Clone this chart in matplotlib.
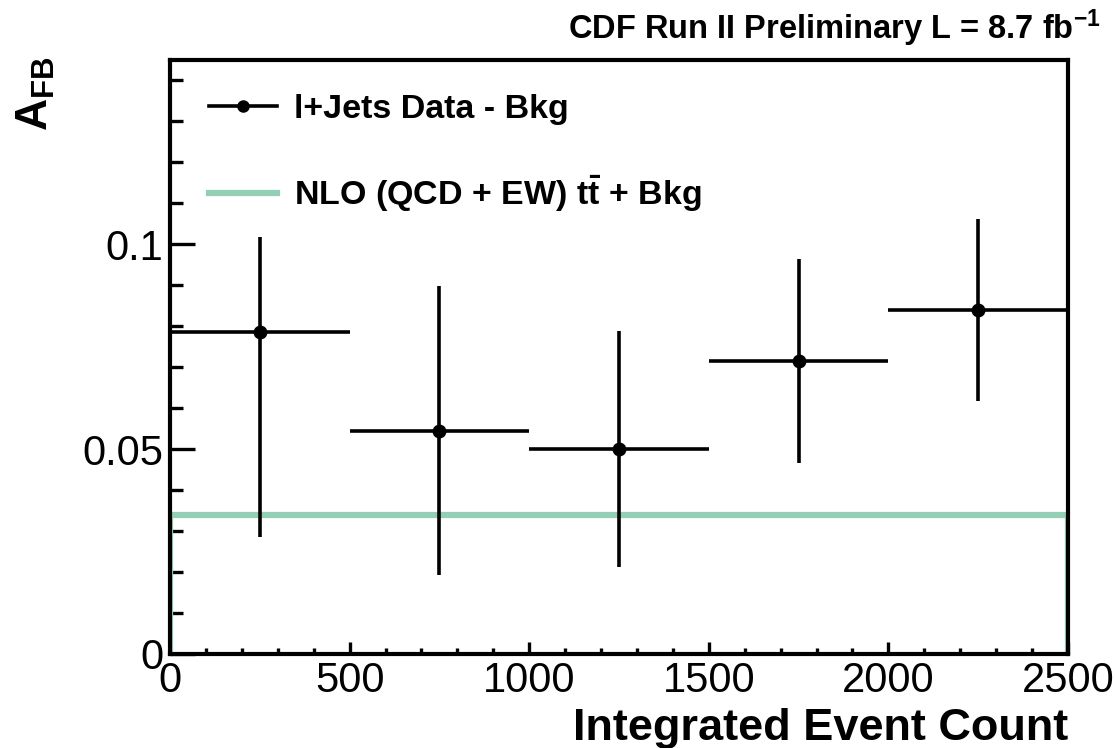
#!/usr/bin/env python3
"""CDF l+jets A_FB versus integrated event count."""

import matplotlib

matplotlib.use("Agg")
import matplotlib.pyplot as plt
from matplotlib.lines import Line2D
import numpy as np

# bins of integrated event count
bin_edges = [0, 500, 1000, 1500, 2000, 2500]
afb_data = [0.0785, 0.0544, 0.0500, 0.0715, 0.0839]
err_low = [0.0500, 0.0351, 0.0288, 0.0249, 0.0222]
err_high = [0.0232, 0.0354, 0.0288, 0.0248, 0.0224]
afb_nlo = [0.0339, 0.0339, 0.0339, 0.0339, 0.0339]

plt.rcParams["font.family"] = ["Liberation Sans", "DejaVu Sans"]
plt.rcParams["mathtext.fontset"] = "custom"
plt.rcParams["mathtext.rm"] = "Liberation Sans"
plt.rcParams["mathtext.bf"] = "Liberation Sans:bold"
plt.rcParams["mathtext.it"] = "Liberation Sans:italic"

NLO_COLOR = "#93cfb4"


def main() -> None:
    fig = plt.figure(figsize=(11.15, 7.48), dpi=100)
    ax = fig.add_axes([0.1525, 0.1257, 0.8053, 0.7941])

    edges = np.asarray(bin_edges, dtype=float)
    centers = 0.5 * (edges[:-1] + edges[1:])
    half = 0.5 * np.diff(edges)

    ax.stairs(afb_nlo, edges, baseline=0, color=NLO_COLOR, linewidth=4.5, zorder=2)
    ax.errorbar(centers, afb_data, xerr=half, yerr=[err_low, err_high],
                fmt="o", color="black", markersize=9, elinewidth=2.6,
                capsize=0, zorder=3)

    ax.set_xlim(0, 2500)
    ax.set_ylim(0, 0.145)
    ax.set_xticks([0, 500, 1000, 1500, 2000, 2500])
    ax.set_xticks(np.arange(0, 2501, 100), minor=True)
    ax.set_yticks([0, 0.05, 0.1])
    ax.set_yticklabels(["0", "0.05", "0.1"])
    ax.set_yticks(np.arange(0, 0.145, 0.01), minor=True)

    ax.tick_params(axis="both", which="both", direction="in", labelsize=30,
                   top=False, right=False, width=2.4)
    ax.tick_params(axis="x", which="major", length=9, pad=5)
    ax.tick_params(axis="x", which="minor", length=4)
    ax.tick_params(axis="y", which="major", length=18, pad=5)
    ax.tick_params(axis="y", which="minor", length=9)
    for spine in ax.spines.values():
        spine.set_linewidth(3)

    ax.set_xlabel("Integrated Event Count", fontsize=32.5, fontweight="bold",
                  loc="right", labelpad=5)
    fig.text(0.032, 0.925, r"A$_{\mathbf{FB}}$", rotation=90, fontsize=32,
             fontweight="bold", ha="center", va="top")
    fig.text(0.987, 0.935, r"CDF Run II Preliminary L = 8.7 fb$^{\mathbf{-1}}$",
             fontsize=23.5, fontweight="bold", ha="right", va="bottom")

    handles = [
        Line2D([], [], color="black", linewidth=2.6, marker="o", markersize=8),
        Line2D([], [], color=NLO_COLOR, linewidth=4.5),
    ]
    labels = ["l+Jets Data - Bkg", r"NLO (QCD + EW) $\mathbf{t\bar{t}}$ + Bkg"]
    ax.legend(handles, labels, loc="upper left",
              bbox_to_anchor=(0.028, 0.965), frameon=False,
              prop={"weight": "bold", "size": 24.5}, handlelength=2.0,
              labelspacing=1.42, handletextpad=0.5, borderaxespad=0)

    fig.savefig("out.png", dpi=100)
    plt.close(fig)


if __name__ == "__main__":
    main()
